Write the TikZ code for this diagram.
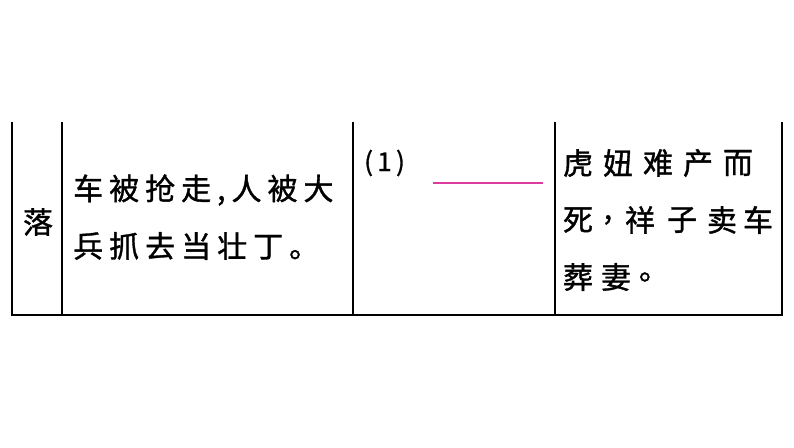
\documentclass[tikz,border=0pt]{standalone}
\usepackage{fontspec}
\setmainfont{Noto Sans CJK SC}[FakeBold=1.2]
\definecolor{pinkline}{RGB}{220,60,160}
\begin{document}
\begin{tikzpicture}[x=1pt,y=-1pt,
  cell/.style={anchor=west,inner sep=0pt,font=\fontsize{30}{32}\selectfont\addfontfeature{LetterSpace=20}},
  ch/.style={inner sep=0pt,font=\fontsize{30}{32}\selectfont},
  rule/.style={line width=1.3pt}]
\useasboundingbox (0,0) rectangle (794,447);
\foreach \x in {12,62,353,555,782} \draw[rule] (\x,122) -- (\x,315);
\draw[line width=2.5pt] (11,315) -- (783,315);
\node[ch] (a) at (38,222) {落};
\node[cell] (b1) at (73,190) {车被抢走,人被大};
\node[cell] (b2) at (73,246) {兵抓去当壮丁。};
\node[cell,font=\fontsize{26}{28}\selectfont] (c) at (364,163) {(\,1\,)};
\coordinate (p1) at (433,183); \coordinate (p2) at (543,183);
\draw[pinkline,line width=1.2pt] (p1) -- (p2);
\foreach \c [count=\i] in {虎,妞,难,产,而} \node[ch] at (578+\i*40-40,163) {\c};
\foreach \c/\x in {死/578,{,}/608,祥/640,子/682,卖/722,车/758} \node[ch] at (\x,220) {\c};
\foreach \c [count=\i] in {葬,妻,。} \node[ch] at (578+\i*38-38,277) {\c};
\end{tikzpicture}
\end{document}
